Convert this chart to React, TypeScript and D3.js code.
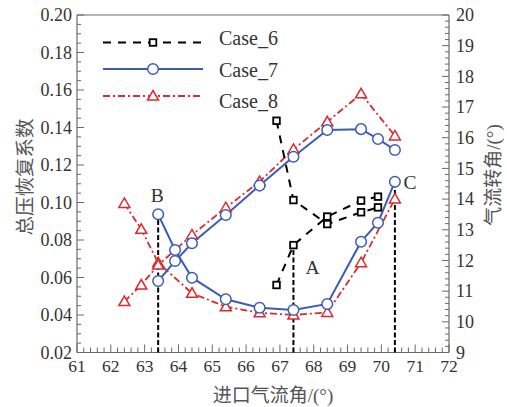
import React from 'react';
import * as d3 from 'd3';

// ---- data ----
const case6X = [66.9, 67.4, 68.4, 69.4, 69.9];
const case6Loss = [0.1436, 0.1013, 0.0885, 0.0948, 0.0974];
const case6Turn = [11.2, 12.5, 13.43, 13.95, 14.08];

const case7X = [63.4, 63.9, 64.4, 65.4, 66.4, 67.4, 68.4, 69.4, 69.9, 70.4];
const case7Loss = [0.0937, 0.0747, 0.0599, 0.0484, 0.0439, 0.0427, 0.0459, 0.0791, 0.0892, 0.1111];
const case7Turn = [11.33, 11.98, 12.56, 13.48, 14.44, 15.38, 16.25, 16.28, 15.96, 15.6];

const case8X = [62.4, 62.9, 63.4, 64.4, 65.4, 66.4, 67.4, 68.4, 69.4, 70.4];
const case8Loss = [0.0995, 0.0857, 0.0679, 0.0516, 0.0444, 0.0412, 0.04, 0.0414, 0.0679, 0.1019];
const case8Turn = [10.66, 11.2, 11.85, 12.83, 13.72, 14.57, 15.62, 16.52, 17.43, 16.06];

const xTickValues = [61, 62, 63, 64, 65, 66, 67, 68, 69, 70, 71, 72];
const leftTickValues = [0.02, 0.04, 0.06, 0.08, 0.1, 0.12, 0.14, 0.16, 0.18, 0.2];
const rightTickValues = [9, 10, 11, 12, 13, 14, 15, 16, 17, 18, 19, 20];
const seriesNames = ['Case_6', 'Case_7', 'Case_8'];
const markLabels = ['B', 'A', 'C'];
const markX = [63.4, 67.4, 70.4];

const xTitle = '进口气流角';
const leftTitle = '总压恢复系数';
const rightTitle = '气流转角';

// ---- layout ----
const W = 507, H = 407;
const X0 = 77, X1 = 449, Y0 = 352.5, Y1 = 15;
const AXIS = '#6a6a6a';
const TEXT = '#333';
const BLUE = '#3d5db5';
const RED = '#dc2a2e';
const serif = { fontFamily: 'Liberation Serif, Times New Roman, serif' };
const cjk = { fontFamily: 'Noto Sans CJK SC, sans-serif' };

export default function App() {
  const x = d3.scaleLinear().domain([61, 72]).range([X0, X1]);
  const yL = d3.scaleLinear().domain([0.02, 0.2]).range([Y0, Y1]);
  const yR = d3.scaleLinear().domain([9, 20]).range([Y0, Y1]);

  const line = (xs: number[], ys: number[], y: d3.ScaleLinear<number, number>) =>
    d3.line<number>().x((_, i) => x(xs[i])).y((v) => y(v))(ys) as string;

  const xMinor = d3.range(61, 72.001, 0.2);
  const lMinor = d3.range(0.02, 0.2001, 0.005);
  const rMinor = d3.range(9, 20.001, 0.2);

  const square = (cx: number, cy: number, k: string) => (
    <rect key={k} x={cx - 3.3} y={cy - 3.3} width={6.6} height={6.6} fill="#fff" stroke="#000" strokeWidth={1.8} />
  );
  const circle = (cx: number, cy: number, k: string) => (
    <circle key={k} cx={cx} cy={cy} r={5.3} fill="#fff" stroke={BLUE} strokeWidth={1.5} />
  );
  const tri = (cx: number, cy: number, k: string) => (
    <path key={k} d={`M${cx},${cy - 5.5}L${cx + 5.5},${cy + 4}L${cx - 5.5},${cy + 4}Z`} fill="#fff" stroke={RED} strokeWidth={1.5} />
  );

  const s6 = { dash: '8,7', color: '#000' };
  const s8 = { dash: '7,3,2,3', color: RED };

  const markY = [yL(case7Loss[0]), yR(case6Turn[1]), yL(case7Loss[9])];
  const labelOff = [[-1, -12.6], [19, 29], [15, 7.6]];

  return (
    <svg width={W} height={H} style={{ position: 'absolute', left: 0, top: 0, background: '#fff' }}>
      {/* frame */}
      <line x1={X0} x2={X1} y1={Y1} y2={Y1} stroke={AXIS} strokeWidth={1.2} />
      <line x1={X0} x2={X1} y1={Y0} y2={Y0} stroke={AXIS} strokeWidth={1.2} />
      <line x1={X0} x2={X0} y1={Y1} y2={Y0} stroke={AXIS} strokeWidth={1.2} />
      <line x1={X1} x2={X1} y1={Y1} y2={Y0} stroke={AXIS} strokeWidth={1.2} />

      {/* bottom ticks */}
      {xMinor.map((v, i) => {
        const major = Math.abs(v - Math.round(v)) < 1e-6;
        return <line key={'xm' + i} x1={x(v)} x2={x(v)} y1={Y0} y2={Y0 - (major ? 8 : 5)} stroke={AXIS} strokeWidth={1} />;
      })}
      {xTickValues.map((v) => (
        <text key={'xl' + v} x={x(v)} y={372} textAnchor="middle" style={serif} fontSize={17.5} fill={TEXT}>{v}</text>
      ))}

      {/* left ticks */}
      {lMinor.map((v, i) => {
        const major = i % 4 === 0;
        return <line key={'lm' + i} x1={X0} x2={X0 + (major ? 7 : 4)} y1={yL(v)} y2={yL(v)} stroke={AXIS} strokeWidth={1} />;
      })}
      {leftTickValues.map((v) => (
        <text key={'ll' + v} x={72} y={yL(v)} dy="0.35em" textAnchor="end" style={serif} fontSize={18} fill={TEXT}>{v.toFixed(2)}</text>
      ))}

      {/* right ticks */}
      {rMinor.map((v, i) => {
        const major = i % 5 === 0;
        return <line key={'rm' + i} x1={X1} x2={X1 - (major ? 7 : 4)} y1={yR(v)} y2={yR(v)} stroke={AXIS} strokeWidth={1} />;
      })}
      {rightTickValues.map((v) => (
        <text key={'rl' + v} x={456} y={yR(v)} dy="0.35em" textAnchor="start" style={serif} fontSize={18} fill={TEXT}>{v}</text>
      ))}

      {/* axis titles */}
      <text x={273} y={402} textAnchor="middle" fontSize={19} fill="#555">
        <tspan style={cjk}>{xTitle}</tspan><tspan style={serif}>/(°)</tspan>
      </text>
      <text transform="translate(25,177) rotate(-90)" textAnchor="middle" dy="0.35em" fontSize={19.5} fill="#555" style={cjk}>{leftTitle}</text>
      <text transform="translate(494,175) rotate(-90)" textAnchor="middle" dy="0.33em" fontSize={19} fill="#555">
        <tspan style={cjk}>{rightTitle}</tspan><tspan style={serif}>/(°)</tspan>
      </text>

      {/* vertical marker lines */}
      {markX.map((mx, i) => (
        <g key={'mk' + i}>
          <line x1={x(mx)} x2={x(mx)} y1={Y0} y2={markY[i]} stroke="#000" strokeWidth={2} strokeDasharray="5,2.5" />
          <text x={x(mx) + labelOff[i][0]} y={markY[i] + labelOff[i][1]} textAnchor="middle" style={serif} fontSize={19.5} fill={TEXT}>{markLabels[i]}</text>
        </g>
      ))}

      {/* Case 8 */}
      <path d={line(case8X, case8Loss, yL)} fill="none" stroke={s8.color} strokeWidth={1.8} strokeDasharray={s8.dash} />
      <path d={line(case8X, case8Turn, yR)} fill="none" stroke={s8.color} strokeWidth={1.8} strokeDasharray={s8.dash} />
      {/* Case 7 */}
      <path d={line(case7X, case7Loss, yL)} fill="none" stroke={BLUE} strokeWidth={2} />
      <path d={line(case7X, case7Turn, yR)} fill="none" stroke={BLUE} strokeWidth={2} />
      {/* Case 6 */}
      <path d={line(case6X, case6Loss, yL)} fill="none" stroke="#000" strokeWidth={2} strokeDasharray={s6.dash} />
      <path d={line(case6X, case6Turn, yR)} fill="none" stroke="#000" strokeWidth={2} strokeDasharray={s6.dash} />

      {case8X.map((v, i) => tri(x(v), yL(case8Loss[i]), 't8l' + i))}
      {case8X.map((v, i) => tri(x(v), yR(case8Turn[i]), 't8r' + i))}
      {case7X.map((v, i) => circle(x(v), yL(case7Loss[i]), 'c7l' + i))}
      {case7X.map((v, i) => circle(x(v), yR(case7Turn[i]), 'c7r' + i))}
      {case6X.map((v, i) => square(x(v), yL(case6Loss[i]), 's6l' + i))}
      {case6X.map((v, i) => square(x(v), yR(case6Turn[i]), 's6r' + i))}

      {/* legend */}
      <g>
        <line x1={103} x2={203} y1={42.5} y2={42.5} stroke="#000" strokeWidth={2} strokeDasharray={s6.dash} />
        {square(153, 42.5, 'lg6')}
        <text x={219} y={45} style={serif} fontSize={20} fill={TEXT}>{seriesNames[0]}</text>
        <line x1={103} x2={203} y1={69} y2={69} stroke={BLUE} strokeWidth={2} />
        {circle(153, 69, 'lg7')}
        <text x={219} y={76.5} style={serif} fontSize={20} fill={TEXT}>{seriesNames[1]}</text>
        <line x1={103} x2={203} y1={96} y2={96} stroke={RED} strokeWidth={1.8} strokeDasharray={s8.dash} />
        {tri(153, 96, 'lg8')}
        <text x={219} y={108} style={serif} fontSize={20} fill={TEXT}>{seriesNames[2]}</text>
      </g>
    </svg>
  );
}
